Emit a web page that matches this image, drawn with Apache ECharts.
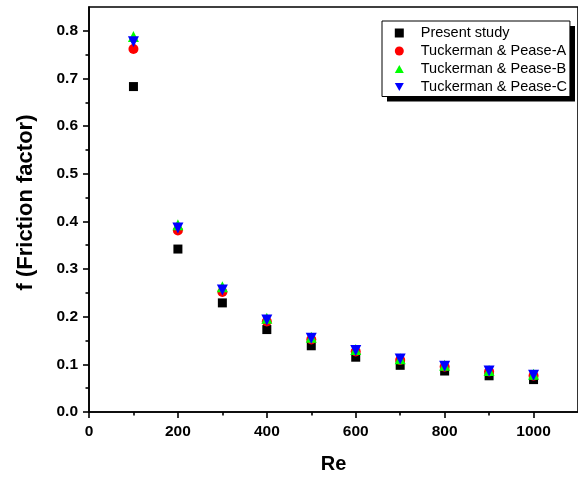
<!DOCTYPE html>
<html>
<head>
<meta charset="utf-8">
<script src="https://cdn.jsdelivr.net/npm/echarts@6/dist/echarts.min.js"></script>
<style>html,body{margin:0;padding:0;background:#fff;}#c{width:578px;height:479px;}</style>
</head>
<body>
<div id="c"></div>
<script>
var reValues = [100, 200, 300, 400, 500, 600, 700, 800, 900, 1000];
var presentStudy = [0.683, 0.342, 0.229, 0.173, 0.139, 0.115, 0.098, 0.086, 0.076, 0.068];
var pease_A = [0.762, 0.381, 0.252, 0.190, 0.152, 0.127, 0.109, 0.095, 0.085, 0.076];
var pease_B = [0.788, 0.393, 0.263, 0.197, 0.157, 0.131, 0.112, 0.098, 0.087, 0.079];
var pease_C = [0.777, 0.386, 0.256, 0.193, 0.155, 0.129, 0.111, 0.096, 0.086, 0.077];
var xMajorTicks = [0, 200, 400, 600, 800, 1000];
var xMinorTicks = [100, 300, 500, 700, 900];
var yMajorTicks = [0, 0.1, 0.2, 0.3, 0.4, 0.5, 0.6, 0.7, 0.8];
var yMinorTicks = [0.05, 0.15, 0.25, 0.35, 0.45, 0.55, 0.65, 0.75];
var seriesNames = ['Present study', 'Tuckerman & Pease-A', 'Tuckerman & Pease-B', 'Tuckerman & Pease-C'];
var legendIcons = ['path://M1,1 L9,1 L9,9 L1,9 Z', 'circle', 'path://M5,0 L10,9 L0,9 Z', 'path://M0,0 L10,0 L5,9 Z'];

function pairs(ys) { return reValues.map(function (x, i) { return [x, ys[i]]; }); }

var FONT = '"Liberation Sans", Arial, sans-serif';
var chart = echarts.init(document.getElementById('c'), null, { renderer: 'canvas' });
var lineStyle = { color: '#000', width: 1.6 };
chart.setOption({
  animation: false,
  backgroundColor: '#fff',
  grid: { left: 89, top: 7, right: -6, bottom: 66, show: true, borderColor: '#000', borderWidth: 1.6, backgroundColor: 'transparent' },
  graphic: [{
    type: 'rect', z: 3, silent: true,
    shape: { x: 387, y: 26, width: 188, height: 75.5 },
    style: { fill: '#000' }
  }],
  legend: {
    orient: 'vertical', left: 382, top: 21, z: 5,
    itemWidth: 9, itemHeight: 9, itemGap: 0,
    padding: [3, 3, 0.5, 12.8],
    backgroundColor: '#fff', borderColor: '#000', borderWidth: 1,
    formatter: function (name) { return '{t|' + name + '}'; },
    textStyle: { fontFamily: FONT, fontSize: 14.5, color: '#000', lineHeight: 18,
      rich: { t: { fontFamily: FONT, fontSize: 14.5, color: '#000', lineHeight: 18, padding: [0, 0, 0, 12] } } },
    data: seriesNames.map(function (n, i) { return { name: n, icon: legendIcons[i] }; })
  },
  xAxis: [{
    type: 'value', min: 0, max: 1100, position: 'bottom',
    name: 'Re', nameLocation: 'middle', nameGap: 42,
    nameTextStyle: { fontFamily: FONT, fontSize: 20, fontWeight: 'bold', color: '#000' },
    axisLine: { show: true, lineStyle: lineStyle },
    axisTick: { show: true, length: 6, lineStyle: lineStyle, customValues: xMajorTicks },
    axisLabel: { customValues: xMajorTicks, margin: 12, fontFamily: FONT, fontSize: 15.5, fontWeight: 'bold', color: '#000',
      formatter: function (v) { return String(v); } },
    splitLine: { show: false }
  }, {
    type: 'value', min: 0, max: 1100, position: 'bottom', gridIndex: 0,
    axisLine: { show: false },
    axisTick: { show: true, length: 3.5, lineStyle: lineStyle, customValues: xMinorTicks },
    axisLabel: { show: false },
    splitLine: { show: false }
  }],
  yAxis: [{
    type: 'value', min: 0, max: 0.85, position: 'left',
    name: 'f (Friction factor)', nameLocation: 'middle', nameGap: 52,
    nameTextStyle: { fontFamily: FONT, fontSize: 22, fontWeight: 'bold', color: '#000', padding: [0, 0, 0, 14] },
    axisLine: { show: true, lineStyle: lineStyle },
    axisTick: { show: true, length: 6, lineStyle: lineStyle, customValues: yMajorTicks },
    axisLabel: { customValues: yMajorTicks, margin: 11, fontFamily: FONT, fontSize: 15.5, fontWeight: 'bold', color: '#000',
      formatter: function (v) { return v.toFixed(1); } },
    splitLine: { show: false }
  }, {
    type: 'value', min: 0, max: 0.85, position: 'left', gridIndex: 0,
    axisLine: { show: false },
    axisTick: { show: true, length: 3.5, lineStyle: lineStyle, customValues: yMinorTicks },
    axisLabel: { show: false },
    splitLine: { show: false }
  }],
  series: [
    { name: seriesNames[0], type: 'scatter', data: pairs(presentStudy), symbol: 'rect', symbolSize: 9, itemStyle: { color: '#000', opacity: 1 } },
    { name: seriesNames[1], type: 'scatter', data: pairs(pease_A), symbol: 'circle', symbolSize: 10, itemStyle: { color: '#ff0000', opacity: 1 } },
    { name: seriesNames[2], type: 'scatter', data: pairs(pease_B), symbol: 'triangle', symbolSize: 11, itemStyle: { color: '#00ff00', opacity: 1 } },
    { name: seriesNames[3], type: 'scatter', data: pairs(pease_C), symbol: 'triangle', symbolRotate: 180, symbolSize: 11, itemStyle: { color: '#0000ff', opacity: 1 } }
  ]
});
</script>
</body>
</html>
